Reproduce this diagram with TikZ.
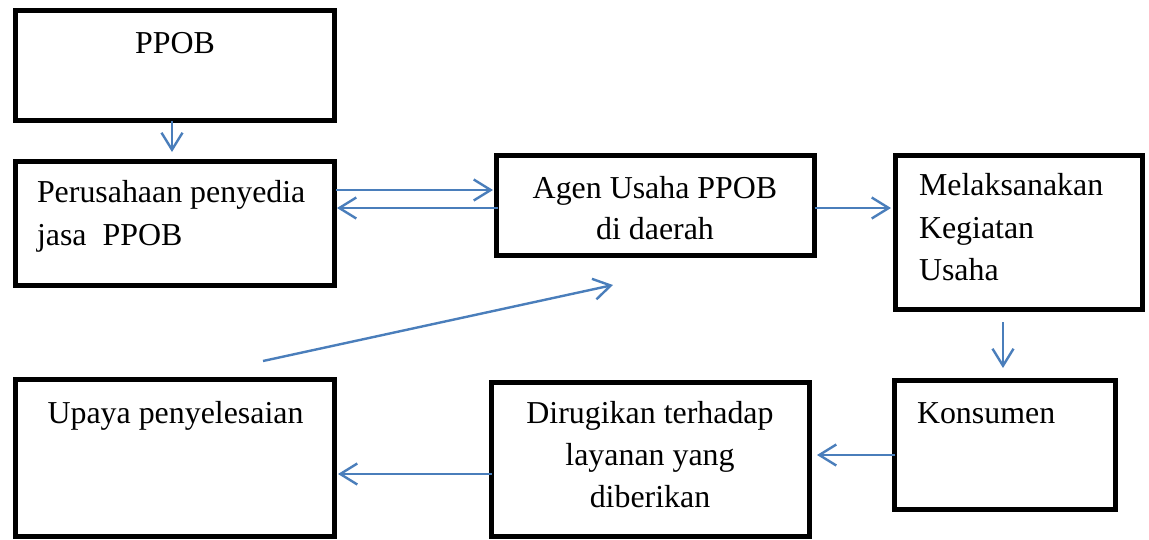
\documentclass[tikz,border=0pt]{standalone}
\usepackage{fontspec}
\setmainfont{Liberation Serif}
\usetikzlibrary{arrows.meta,calc}
\definecolor{arrblue}{HTML}{4A7EBB}
\begin{document}
\begin{tikzpicture}[x=1pt,y=-1pt,
  box/.style={draw=black,line width=5pt,rectangle,inner sep=0pt,outer sep=0pt},
  txt/.style={font=\fontsize{31.9}{41}\selectfont,inner sep=0pt,outer sep=0pt},
  arr/.style={draw=arrblue,line width=2.4pt,-{Straight Barb[length=17pt,width=21pt,line width=2.4pt]}}]
\useasboundingbox (0,0) rectangle (1149,539);
% boxes
\node[box,minimum width=319pt,minimum height=110pt] (ppob) at (175,65.5) {};
\node[box,minimum width=318.5pt,minimum height=124pt] (perus) at (174.75,223.5) {};
\node[box,minimum width=318pt,minimum height=100pt] (agen) at (655.5,205.5) {};
\node[box,minimum width=247pt,minimum height=154pt] (melak) at (1019,232.5) {};
\node[box,minimum width=221pt,minimum height=128.5pt] (kons) at (1005,444.75) {};
\node[box,minimum width=318pt,minimum height=154pt] (dirug) at (650.5,459.5) {};
\node[box,minimum width=318.5pt,minimum height=157.5pt] (upaya) at (174.75,457.75) {};
% texts
\node[txt,anchor=base] (t1) at (175,53) {PPOB};
\node[txt,anchor=base west] (t2a) at (37,202) {Perusahaan penyedia};
\node[txt,anchor=base west] (t2b) at (37,245) {jasa\ \ PPOB};
\node[txt,anchor=base] (t3a) at (655,198) {Agen Usaha PPOB};
\node[txt,anchor=base] (t3b) at (655,239) {di daerah};
\node[txt,anchor=base west] (t4a) at (919,195) {Melaksanakan};
\node[txt,anchor=base west] (t4b) at (919,238) {Kegiatan};
\node[txt,anchor=base west] (t4c) at (919,280) {Usaha};
\node[txt,anchor=base west] (t5) at (917,423) {Konsumen};
\node[txt,anchor=base] (t6a) at (650,423) {Dirugikan terhadap};
\node[txt,anchor=base] (t6b) at (650,465) {layanan yang};
\node[txt,anchor=base] (t6c) at (650,507) {diberikan};
\node[txt,anchor=base] (t7) at (175.5,423) {Upaya penyelesaian};
% connectors
\draw[arr] ([xshift=-3pt]ppob.south) -- ([xshift=-2.75pt,yshift=9.5pt]perus.north);
\draw[arr] ([xshift=2pt,yshift=33.5pt]perus.east) -- ([xshift=-3.5pt,yshift=15.5pt]agen.west);
\draw[arr] ([xshift=1.5pt,yshift=-2.5pt]agen.west) -- ([xshift=3pt,yshift=15.5pt]perus.east);
\draw[arr] ([yshift=-2.5pt]agen.east) -- ([xshift=-4.5pt,yshift=24.5pt]melak.west);
\draw[arr] ([xshift=-16pt,yshift=-12.5pt]melak.south) -- ([xshift=-2pt,yshift=12.5pt]kons.north);
\draw[arr] ([yshift=-10.25pt]kons.west) -- ([xshift=7.5pt,yshift=4.5pt]dirug.east);
\draw[arr] ([yshift=-14.5pt]dirug.west) -- ([xshift=4pt,yshift=-16.25pt]upaya.east);
\draw[arr] ([xshift=88.25pt,yshift=18pt]upaya.north) -- ([xshift=-42.5pt,yshift=-29.5pt]agen.south);
\end{tikzpicture}
\end{document}
